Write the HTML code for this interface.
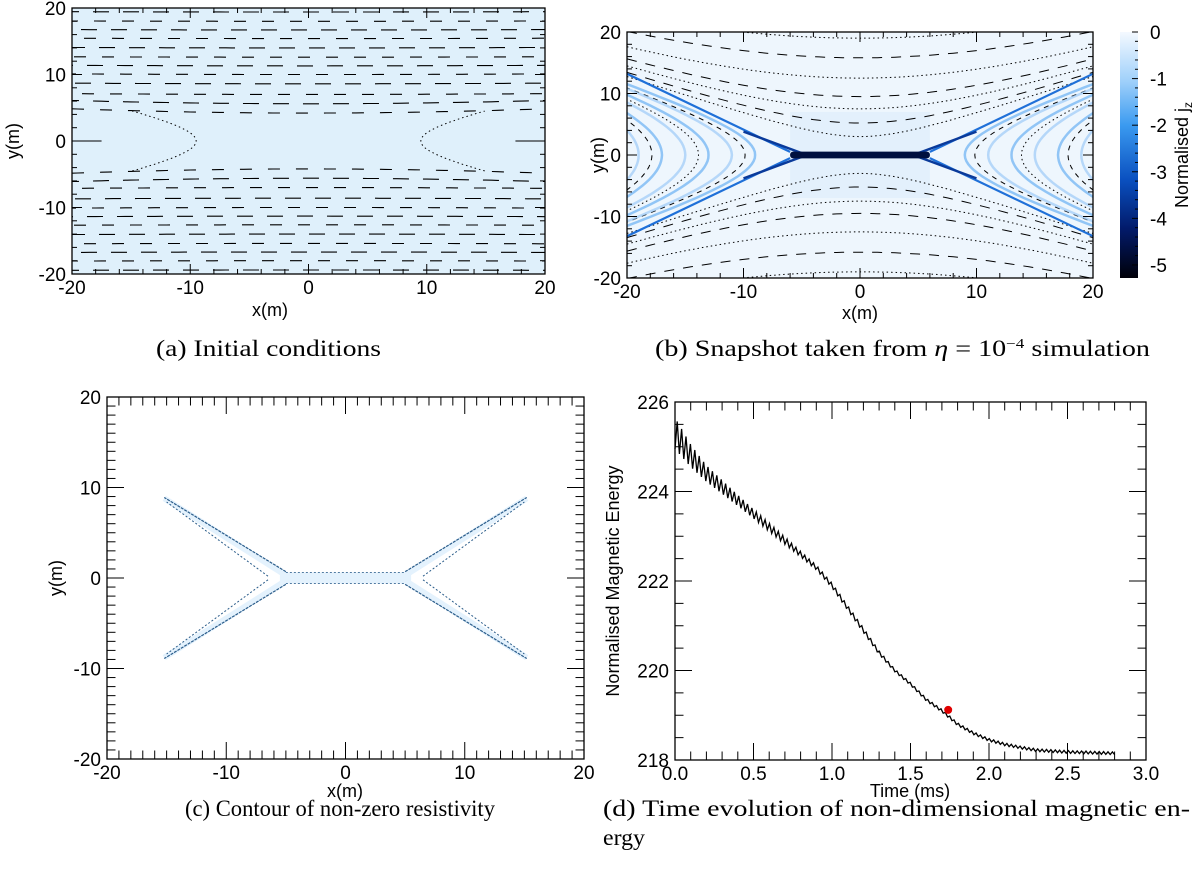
<!DOCTYPE html>
<html><head><meta charset="utf-8">
<style>
body{margin:0;background:#fff;}
svg{display:block;}
text{font-family:"Liberation Sans",sans-serif;}
.cap{font-family:"Liberation Serif",serif;font-size:23px;}
</style></head>
<body>
<svg id="fig" width="1200" height="870" viewBox="0 0 1200 870" xmlns="http://www.w3.org/2000/svg">
<defs>
<linearGradient id="cbar" x1="0" y1="0" x2="0" y2="1">
<stop offset="0" stop-color="#f4f9ff"/><stop offset="0.2" stop-color="#9fd0fa"/><stop offset="0.38" stop-color="#3a9af0"/><stop offset="0.6" stop-color="#0a50c0"/><stop offset="0.8" stop-color="#021a6a"/><stop offset="1" stop-color="#000008"/>
</linearGradient>
<clipPath id="clipA"><rect x="72" y="8" width="473" height="266"/></clipPath>
<clipPath id="clipB"><rect x="627" y="32" width="466" height="246"/></clipPath>
</defs>
<g id="layer"></g>
<text class="cap" x="156" y="356" textLength="225" lengthAdjust="spacingAndGlyphs">(a) Initial conditions</text>
<text class="cap" x="655" y="356" textLength="495" lengthAdjust="spacingAndGlyphs">(b) Snapshot taken from <tspan font-style="italic">η</tspan> = 10<tspan font-size="14" dy="-8">−4</tspan><tspan dy="8"> simulation</tspan></text>
<text class="cap" x="185" y="816" textLength="310" lengthAdjust="spacingAndGlyphs">(c) Contour of non-zero resistivity</text>
<text class="cap" x="603" y="816" textLength="587" lengthAdjust="spacingAndGlyphs">(d) Time evolution of non-dimensional magnetic en-</text>
<text class="cap" x="603" y="845" textLength="42" lengthAdjust="spacingAndGlyphs">ergy</text>
</svg>
<script>
// ---- data ----
const spatialTicks = [-20,-10,0,10,20];
const timeTicks = [0.0,0.5,1.0,1.5,2.0,2.5,3.0];
const energyTicks = [218,220,222,224,226];
const cbarTicks = [0,-1,-2,-3,-4,-5];
const timeValues = [0,0.1,0.2,0.3,0.4,0.5,0.6,0.7,0.8,0.9,1.0,1.1,1.2,1.3,1.4,1.5,1.6,1.7,1.8,1.9,2.0,2.1,2.2,2.3,2.4,2.5,2.6,2.7,2.8];
const energyValues = [225.3,224.8,224.4,224.1,223.8,223.5,223.2,222.9,222.6,222.3,221.9,221.4,220.9,220.4,220.0,219.7,219.35,219.1,218.8,218.6,218.45,218.35,218.28,218.22,218.2,218.18,218.17,218.16,218.15];
const noiseAmp = [0.35,0.25,0.18,0.15,0.12,0.1,0.09,0.08,0.06,0.05,0.05,0.05,0.05,0.04,0.03,0.03,0.03,0.03,0.03,0.03,0.03,0.03,0.03,0.03,0.03,0.03,0.03,0.03,0.03];
const markerTime = [1.74];
const markerEnergy = [219.12];
const fieldLevelsB = [3,5.2,7.5,9.5,12.5,15.8,19];
const sideArcsB = [9,11,13,15,17,19];
const fieldLevelsA = [4.2,5.6,7.0,8.6,10.0,11.3,12.6,14.0,15.4,16.7,18.0,19.4];

const NS='http://www.w3.org/2000/svg';
const root=document.getElementById('layer');
function el(tag,attrs,parent){const e=document.createElementNS(NS,tag);for(const k in attrs)e.setAttribute(k,attrs[k]);(parent||root).appendChild(e);return e;}
function scale(d0,d1,p0,p1){return v=>p0+(v-d0)/(d1-d0)*(p1-p0);}

function axes(g,box,X,Y,xr,yr,xt,yt,xmin,ymin,xfmt,yfmt,ticklen){
  const [x0,y0,x1,y1]=box;
  const f=el('rect',{x:x0,y:y0,width:x1-x0,height:y1-y0,fill:'none',stroke:'#000','stroke-width':1.3},g);
  
  
  for(let v=xr[0];v<=xr[1]+1e-9;v+=xmin){
    const major=xt.some(t=>Math.abs(t-v)<1e-6);const L=major?ticklen:ticklen/2;const px=X(v);
    el('line',{x1:px,y1:y1,x2:px,y2:y1-L,stroke:'#000','stroke-width':1},g);
    el('line',{x1:px,y1:y0,x2:px,y2:y0+L,stroke:'#000','stroke-width':1},g);
  }
  for(let v=yr[0];v<=yr[1]+1e-9;v+=ymin){
    const major=yt.some(t=>Math.abs(t-v)<1e-6);const L=major?ticklen:ticklen/2;const py=Y(v);
    el('line',{x1:x0,y1:py,x2:x0+L,y2:py,stroke:'#000','stroke-width':1},g);
    el('line',{x1:x1,y1:py,x2:x1-L,y2:py,stroke:'#000','stroke-width':1},g);
  }
  xt.forEach(t=>{const tx=el('text',{x:X(t),y:y1+20,'font-size':19,'text-anchor':'middle'},g);tx.textContent=xfmt(t);
    });
  yt.forEach(t=>{const tx=el('text',{x:x0-6,y:Y(t)+7,'font-size':19,'text-anchor':'end'},g);tx.textContent=yfmt(t);
    });
}
function title(g,x,y,txt,rot,name){const t=el('text',{x:x,y:y,'font-size':18,'text-anchor':'middle',transform:rot?`rotate(-90 ${x} ${y})`:''},g);t.textContent=txt;
  return t;}
const I=v=>String(v);

// ---------- Panel A ----------
(function(){
  const g=el('g',{});
  
  
  const box=[72,8,545,274];
  const X=scale(-20,20,box[0],box[2]),Y=scale(-20,20,box[3],box[1]);
  el('rect',{x:72,y:8,width:473,height:266,fill:'#dff0fb'},g);
  const c=el('g',{'clip-path':'url(#clipA)'},g);
  fieldLevelsA.forEach((L,i)=>{[1,-1].forEach(s=>{
    let d='';for(let x=-20;x<=20.01;x+=0.5){const y=s*Math.sqrt(L*L+Math.pow(0.12*x,2)*(L>6?0.3:1));d+=(x===-20?'M':'L')+X(x).toFixed(1)+' '+Y(y).toFixed(1);}
    const p=el('path',{d:d,fill:'none',stroke:'#000','stroke-width':1.1,'stroke-dasharray':(i%2?'16 14':'12 16'),'stroke-dashoffset':i*9},c);
    
  });});
  [1,-1].forEach(s=>{let d='';for(let y=-4.5;y<=4.51;y+=0.25){const x=s*Math.sqrt(9.5*9.5+Math.pow(y*2.55,2));d+=(y===-4.5?'M':'L')+X(x).toFixed(1)+' '+Y(y).toFixed(1);}
    const p=el('path',{d:d,fill:'none',stroke:'#000','stroke-width':1,'stroke-dasharray':'1.5 3'},c);
    
    el('line',{x1:X(s*20),y1:Y(0),x2:X(s*17.5),y2:Y(0),stroke:'#000','stroke-width':1.1},c);});
  axes(g,box,X,Y,[-20,20],[-20,20],spatialTicks,[-20,-10,0,10,20],2,2,I,I,10);
  title(g,270,316,'x(m)',false,'x-axis-title');
  title(g,19,141,'y(m)',true,'y-axis-title');
})();

// ---------- Panel B ----------
(function(){
  const g=el('g',{});
  
  
  const box=[627,32,1093,278];
  const X=scale(-20,20,box[0],box[2]),Y=scale(-20,20,box[3],box[1]);
  el('rect',{x:627,y:32,width:466,height:246,fill:'#eef6fd'},g);
  const c=el('g',{'clip-path':'url(#clipB)'},g);
  el('rect',{x:X(-6),y:Y(7),width:X(6)-X(-6),height:Y(-7)-Y(7),fill:'#e3f0fc'},c);
  sideArcsB.forEach((v,i)=>{[1,-1].forEach(s=>{let d='';for(let y=-14;y<=14.01;y+=0.5){const x=s*Math.sqrt(v*v+Math.pow(y*1.55,2));d+=(y===-14?'M':'L')+X(x).toFixed(1)+' '+Y(y).toFixed(1);}
    const p=el('path',{d:d,fill:'none',stroke:i%2?'#9ccbf6':'#6ab0f2','stroke-width':2.5,opacity:0.7},c);
    
    if(i%2===0){const q=el('path',{d:d,fill:'none',stroke:'#000','stroke-width':1,'stroke-dasharray':i%4?'1.5 3':'5 5',transform:`translate(${s*10} 0)`},c);
    }});});
  fieldLevelsB.forEach((L,i)=>{[1,-1].forEach(s=>{let d='';for(let x=-20;x<=20.01;x+=0.5){const y=s*Math.sqrt(L*L+Math.pow(0.62*x,2));d+=(x===-20?'M':'L')+X(x).toFixed(1)+' '+Y(y).toFixed(1);}
    const p=el('path',{d:d,fill:'none',stroke:'#000','stroke-width':1,'stroke-dasharray':i%2?'10 9':'1.5 3'},c);
    });});
  [[1,1],[1,-1],[-1,1],[-1,-1]].forEach(([sx,sy])=>{
    const p=el('path',{d:`M${X(sx*6)} ${Y(sy*0.5)} L${X(sx*20)} ${Y(sy*13.2)}`,stroke:'#1f70d8','stroke-width':2.2,fill:'none'},c);
    
    el('path',{d:`M${X(sx*5)} ${Y(sy*0.3)} L${X(sx*10)} ${Y(sy*3.8)}`,stroke:'#0a3a9a','stroke-width':2.4,fill:'none'},c);});
  const sh=el('rect',{x:X(-6),y:Y(0.55),width:X(6)-X(-6),height:Y(-0.55)-Y(0.55),fill:'#00103f',rx:3},c);
  
  axes(g,box,X,Y,[-20,20],[-20,20],spatialTicks,[-20,-10,0,10,20],2,2,I,I,10);
  title(g,860,319,'x(m)',false,'x-axis-title');
  title(g,604,155,'y(m)',true,'y-axis-title');
  const cb=el('rect',{x:1120,y:32,width:18,height:246,fill:'url(#cbar)'},g);
  
  const C=scale(0,-5.28,32,278);
  for(let v=0;v>=-5.2;v-=0.2){const major=Math.abs(v-Math.round(v))<1e-6;el('line',{x1:1138,y1:C(v),x2:1138-(major?6:3),y2:C(v),stroke:'#000','stroke-width':1},g);}
  cbarTicks.forEach(t=>{const tx=el('text',{x:1150,y:C(t)+7,'font-size':19},g);tx.textContent=t===0?'0':String(t);
    });
  const ct=el('text',{x:1188,y:155,'font-size':18,'text-anchor':'middle',transform:'rotate(-90 1188 155)'},g);
  ct.innerHTML='Normalised j<tspan font-size="12" dy="4">z</tspan>';
  
})();

// ---------- Panel C ----------
(function(){
  const g=el('g',{});
  
  
  const box=[107,397,584,759];
  const X=scale(-20,20,box[0],box[2]),Y=scale(-20,20,box[3],box[1]);
  el('rect',{x:X(-5.5),y:Y(0.6),width:X(5.5)-X(-5.5),height:Y(-0.6)-Y(0.6),fill:'#e4f2fd'},g);
  [[1,1],[1,-1],[-1,1],[-1,-1]].forEach(([sx,sy])=>{
    const band=el('path',{d:`M${X(sx*5)} ${Y(sy*0.3)} L${X(sx*15.2)} ${Y(sy*8.8)}`,stroke:'#e4f2fd','stroke-width':6,fill:'none'},g);
    
    el('path',{d:`M${X(sx*5)} ${Y(sy*0.7)} L${X(sx*15.2)} ${Y(sy*8.9)}`,stroke:'#2a5c8a','stroke-width':1.2,fill:'none','stroke-dasharray':'3 1'},g);
    el('path',{d:`M${X(sx*6.5)} ${Y(sy*0.2)} L${X(sx*15)} ${Y(sy*8.4)}`,stroke:'#2a5c8a','stroke-width':1,fill:'none','stroke-dasharray':'2 2'},g);
  });
  el('line',{x1:X(-5),y1:Y(0.6),x2:X(5),y2:Y(0.6),stroke:'#3a6a96','stroke-width':0.8,'stroke-dasharray':'2 2'},g);
  el('line',{x1:X(-5),y1:Y(-0.6),x2:X(5),y2:Y(-0.6),stroke:'#3a6a96','stroke-width':0.8,'stroke-dasharray':'2 2'},g);
  axes(g,box,X,Y,[-20,20],[-20,20],spatialTicks,[-20,-10,0,10,20],1,1,I,I,17);
  title(g,345,797,'x(m)',false,'x-axis-title');
  title(g,62,578,'y(m)',true,'y-axis-title');
})();

// ---------- Panel D ----------
(function(){
  const g=el('g',{});
  
  
  const box=[675,402,1146,760];
  const X=scale(0,3,box[0],box[2]),Y=scale(218,226,box[3],box[1]);
  let d='';const N=200;
  for(let k=0;k<=N;k++){
    const t=2.8*k/N;let i=Math.min(Math.floor(t/0.1),timeValues.length-2);const f=(t-timeValues[i])/0.1;
    const e=energyValues[i]*(1-f)+energyValues[i+1]*f;const a=noiseAmp[i]*(1-f)+noiseAmp[i+1]*f;
    const v=e+(k%2?a:-a);d+=(k?'L':'M')+X(t).toFixed(1)+' '+Y(v).toFixed(1);
  }
  const ln=el('path',{d:d,fill:'none',stroke:'#000','stroke-width':1.3},g);
  
  markerTime.forEach((t,i)=>{const m=el('circle',{cx:X(t),cy:Y(markerEnergy[i]),r:4,fill:'#e00000'},g);
    });
  axes(g,box,X,Y,[0,3],[218,226],timeTicks,energyTicks,0.1,0.5,v=>v.toFixed(1),I,17);
  title(g,910,797,'Time (ms)',false,'x-axis-title');
  title(g,619,581,'Normalised Magnetic Energy',true,'y-axis-title');
})();
</script>
</body></html>
